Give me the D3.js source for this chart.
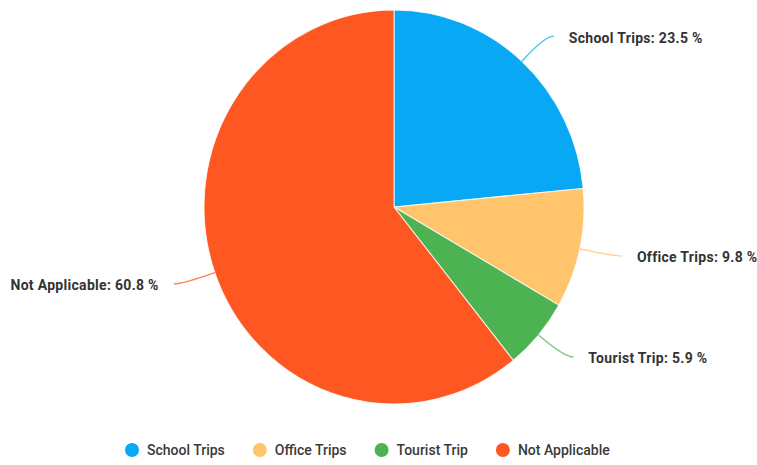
<!DOCTYPE html>
<html>
<head>
<meta charset="utf-8">
<script src="https://cdn.jsdelivr.net/npm/d3@7"></script>
<style>
  html, body { margin: 0; padding: 0; background: #ffffff; }
  svg { display: block; font-family: Roboto, "Noto Sans", sans-serif; }
</style>
</head>
<body>
<svg id="chart" width="757" height="465"></svg>
<script>
// Trip purpose shares (percent)
const categories = ["School Trips", "Office Trips", "Tourist Trip", "Not Applicable"];
const shares = [23.5, 9.8, 5.9, 60.8];
const colors = ["#09a8f4", "#ffc46c", "#4db251", "#ff5722"];

const svg = d3.select("#chart");
const cx = 394, cy = 207;
const radius = 190;
const yStretch = 197 / 190;

const data = categories.map((c, i) => ({ name: c, value: shares[i], color: colors[i] }));

const pie = d3.pie().value(d => d.value).sort(null).startAngle(0).endAngle(2 * Math.PI);
const arcs = pie(data);
const arc = d3.arc().innerRadius(0).outerRadius(radius);

// slices
const pieG = svg.append("g")
  .attr("transform", `translate(${cx},${cy}) scale(1,${yStretch})`);
pieG.selectAll("path")
  .data(arcs)
  .join("path")
  .attr("d", arc)
  .attr("fill", d => d.data.color)
  .attr("stroke", "#ffffff")
  .attr("stroke-width", 1)
  .attr("stroke-opacity", 0.8);

// callout ticks and labels
const fmt = d3.format(".1f");
const labelG = svg.append("g");
arcs.forEach(a => {
  const mid = (a.startAngle + a.endAngle) / 2;
  const ux = Math.sin(mid), uy = -Math.cos(mid);
  const sx = cx + radius * ux, sy = cy + radius * yStretch * uy;
  const side = ux >= 0 ? 1 : -1;
  const kx = sx + ux * 34, ky = sy + uy * 34;
  const ex = kx + side * 9, ey = ky;
  labelG.append("path")
    .attr("d", `M${sx},${sy} Q${kx},${ky} ${ex},${ey}`)
    .attr("fill", "none")
    .attr("stroke", a.data.color)
    .attr("stroke-opacity", 0.75)
    .attr("stroke-width", 1.4);
  labelG.append("text")
    .attr("x", ex + side * 15)
    .attr("y", ey + 1.5)
    .attr("dy", "0.35em")
    .attr("text-anchor", side > 0 ? "start" : "end")
    .attr("font-size", 14)
    .attr("font-weight", 700)
    .attr("letter-spacing", 0.3)
    .attr("fill", "#333333")
    .text(`${a.data.name}: ${fmt(a.data.value)} %`);
});

// legend
const legend = svg.append("g").attr("transform", "translate(0,450)");
let lx = 132;
data.forEach(d => {
  legend.append("circle")
    .attr("cx", lx).attr("cy", 0).attr("r", 7)
    .attr("fill", d.color);
  const t = legend.append("text")
    .attr("x", lx + 15).attr("y", 0).attr("dy", "0.35em")
    .attr("font-size", 14)
    .attr("font-weight", 500)
    .attr("fill", "#3a3a3a")
    .text(d.name);
  lx += 15 + t.node().getComputedTextLength() + 35;
});
</script>
</body>
</html>
